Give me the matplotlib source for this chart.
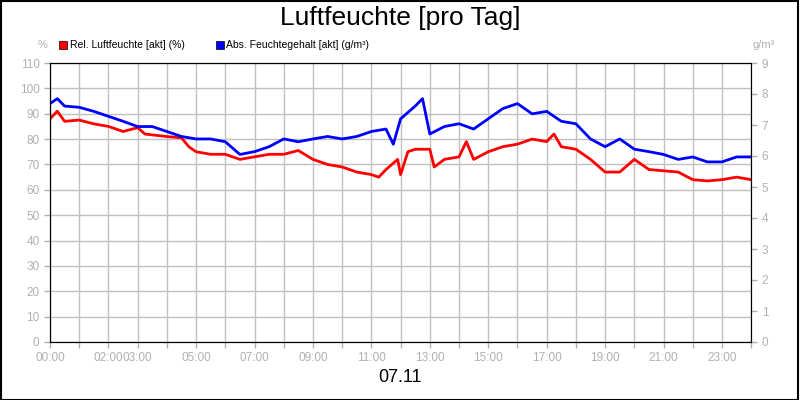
import matplotlib.pyplot as plt
from matplotlib.patches import Rectangle

plt.rcParams['font.family'] = 'Liberation Sans'

rel_t = [0, 0.25, 0.5, 1, 1.5, 2, 2.5, 3, 3.25, 4, 4.5, 4.75, 5, 5.5, 6, 6.5, 7, 7.5, 8, 8.5, 9,
         9.5, 10, 10.5, 11, 11.25, 11.5, 11.9, 12.0, 12.25, 12.5, 13, 13.15, 13.5, 14, 14.25,
         14.5, 15, 15.5, 16, 16.5, 17, 17.25, 17.5, 18, 18.5, 19, 19.5, 20, 20.5, 21, 21.5,
         22, 22.5, 23, 23.5, 24]
rel_v = [88, 91, 87, 87.5, 86, 85, 83, 84.5, 82, 81, 80.5, 77, 75, 74, 74, 72, 73, 74, 74, 75.5, 72,
         70, 69, 67, 66, 65, 68, 72, 66, 75, 76, 76, 69, 72, 73, 79,
         72, 75, 77, 78, 80, 79, 82, 77, 76, 72, 67, 67, 72, 68, 67.5, 67,
         64, 63.5, 64, 65, 64]

abs_t = [0, 0.25, 0.5, 1, 1.5, 2, 2.5, 3, 3.5, 4, 4.5, 5, 5.5, 6, 6.5, 7, 7.5, 8, 8.5, 9, 9.5,
         10, 10.5, 11, 11.5, 11.75, 12, 12.5, 12.75, 13, 13.5, 14, 14.5, 15, 15.5, 16, 16.5,
         17, 17.5, 18, 18.5, 19, 19.5, 20, 20.5, 21, 21.5, 22, 22.5, 23, 23.5, 24]
abs_v = [7.69, 7.85, 7.61, 7.57, 7.44, 7.28, 7.12, 6.95, 6.95, 6.79, 6.63, 6.55, 6.55, 6.46, 6.05,
         6.14, 6.30, 6.55, 6.46, 6.55, 6.63, 6.55, 6.63, 6.79, 6.87, 6.38, 7.20, 7.61, 7.85, 6.71,
         6.95, 7.04, 6.87, 7.20, 7.53, 7.69, 7.36, 7.44, 7.12, 7.04, 6.55, 6.30, 6.55, 6.22, 6.14,
         6.05, 5.89, 5.97, 5.81, 5.81, 5.97, 5.97]

tick_hours = [0, 2, 3, 5, 7, 9, 11, 13, 15, 17, 19, 21, 23]

grey = '#b0b0b0'
fig = plt.figure(figsize=(8, 4), dpi=100)
fig.patches.append(Rectangle((0.001, 0.001), 0.997, 0.997, transform=fig.transFigure,
                             fill=False, edgecolor='black', linewidth=1.5))
ax = fig.add_axes([0.0625, 0.145, 0.8765, 0.6975])
ax2 = ax.twinx()

ax.plot(rel_t, rel_v, color='#ff0000', linewidth=2)
ax2.plot(abs_t, abs_v, color='#0000ff', linewidth=2)

ax.set_xlim(0, 24)
ax.set_ylim(0, 110)
ax2.set_ylim(0, 9)
ax.set_yticks(range(0, 111, 10))
ax2.set_yticks(range(0, 10))
ax.set_xticks(range(0, 25))
ax.set_xticklabels([('%02d:00' % h) if h in tick_hours else '' for h in range(0, 25)])
ax.grid(True, color='#c0c0c0', linewidth=1)
ax.set_axisbelow(True)
for a in (ax, ax2):
    a.tick_params(colors=grey, labelsize=8.5, length=4, width=1)
    for s in a.spines.values():
        s.set_color('black')

fig.text(0.5, 0.955, 'Luftfeuchte [pro Tag]', ha='center', va='center', fontsize=19)
fig.text(0.5, 0.055, '07.11', ha='center', va='center', fontsize=13)
fig.text(0.053, 0.88, '%', color=grey, fontsize=8, ha='center')
fig.text(0.955, 0.88, 'g/m³', color=grey, fontsize=8, ha='center')
fig.patches.append(Rectangle((0.074, 0.878), 0.01, 0.02, transform=fig.transFigure,
                             facecolor='#ff0000', edgecolor='black', linewidth=0.5))
fig.text(0.087, 0.888, 'Rel. Luftfeuchte [akt] (%)', fontsize=7.5, va='center')
fig.patches.append(Rectangle((0.27, 0.878), 0.01, 0.02, transform=fig.transFigure,
                             facecolor='#0000ff', edgecolor='black', linewidth=0.5))
fig.text(0.283, 0.888, 'Abs. Feuchtegehalt [akt] (g/m³)', fontsize=7.5, va='center')

fig.savefig('out.png', dpi=100)
